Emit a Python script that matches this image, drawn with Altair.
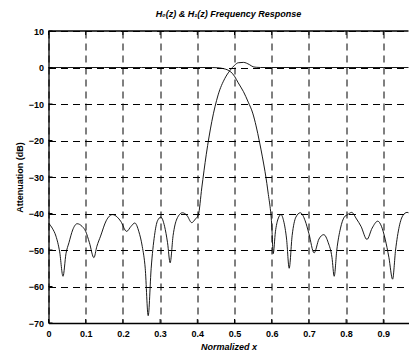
import altair as alt
import pandas as pd

# H0 (lowpass) response: normalized x, attenuation dB
h0_x = [0, 0.05, 0.1, 0.15, 0.2, 0.25, 0.3, 0.35, 0.4, 0.44, 0.46, 0.47, 0.48, 0.49, 0.5,
        0.51, 0.524, 0.537, 0.549, 0.558, 0.567, 0.575, 0.582, 0.587, 0.591, 0.597, 0.600,
        0.604, 0.61, 0.617, 0.625, 0.632, 0.64, 0.647, 0.655, 0.665, 0.677, 0.69, 0.70,
        0.714, 0.727, 0.74, 0.752, 0.762, 0.768, 0.775, 0.785, 0.795, 0.804, 0.815, 0.828,
        0.84, 0.856, 0.87, 0.885, 0.895, 0.905, 0.915, 0.925, 0.933, 0.943, 0.953, 0.964,
        0.975, 0.988, 0.995]
h0_db = [0, 0, 0, 0, 0, 0, 0, 0, 0, 0, -0.1, -0.3, -0.6, -1.2, -2.4,
         -4.2, -6.6, -9.5, -12.5, -16, -20.3, -24.5, -28.5, -31.8, -34.8, -39.4, -43,
         -51, -45, -41.5, -40.3, -42, -47, -55, -46, -41, -39.8, -42, -45.5,
         -50.8, -47, -45.8, -48, -52, -57.2, -50, -44, -41, -40.3, -39.7, -41.5,
         -43.5, -47.1, -44, -42.1, -43.5, -47, -52, -58, -50, -43.5, -40.5, -39.7,
         -40.3, -41.8, -45]

# H1 (highpass) response
h1_x = [0, 0.01, 0.02, 0.03, 0.039, 0.047, 0.055, 0.065, 0.077, 0.09, 0.1, 0.11, 0.122,
        0.13, 0.14, 0.155, 0.172, 0.185, 0.194, 0.21, 0.222, 0.232, 0.243, 0.252, 0.26,
        0.268, 0.276, 0.285, 0.293, 0.302, 0.312, 0.32, 0.327, 0.335, 0.345, 0.36, 0.372,
        0.385, 0.395, 0.403, 0.412, 0.424, 0.439, 0.456, 0.474, 0.488, 0.5, 0.51, 0.524,
        0.54, 0.55, 0.56, 0.57, 0.6, 0.7, 0.8, 0.9, 1.0]
h1_db = [-42.6, -44, -46.2, -50.5, -57.2, -51, -48, -44.5, -42.8, -43.5, -44.9, -48, -52.1,
         -49, -46.2, -42, -40.3, -41, -42.1, -44.9, -43.5, -42.6, -45, -49, -55,
         -68, -55, -46, -42, -41, -43.5, -48, -53.5, -46, -41.5, -39.8, -40.5,
         -42.5, -41.5, -40.3, -33, -23.9, -14.8, -7.5, -3, -0.8, 0.6, 1.3, 1.4,
         0.8, 0.2, 0.05, 0, 0, 0, 0, 0, 0]

x_ticks = [0, 0.1, 0.2, 0.3, 0.4, 0.5, 0.6, 0.7, 0.8, 0.9]
y_ticks = [-70, -60, -50, -40, -30, -20, -10, 0, 10]

W = 360
X_MAX = W / 372.0
H = 292
FONT = "Liberation Sans"

df = pd.concat([
    pd.DataFrame({"x": h0_x, "db": h0_db, "s": "H0"}),
    pd.DataFrame({"x": h1_x, "db": h1_db, "s": "H1"}),
])

xs = alt.Scale(domain=[0, X_MAX], nice=False, zero=False)
ys = alt.Scale(domain=[-70, 10], nice=False, zero=False)

x_axis = alt.Axis(
    values=x_ticks, format="~g", grid=True, gridDash=[7, 5], gridColor="black",
    gridWidth=1, gridOpacity=1, domain=True, domainColor="black", domainWidth=1.3,
    ticks=False, tickSize=0, labelFont=FONT, labelFontWeight="bold", labelFontSize=9,
    labelColor="black", labelPadding=6, labelFlush=False, title="Normalized x",
    titleFont=FONT, titleFontWeight="bold", titleFontStyle="italic", titleFontSize=9,
    titleColor="black", titlePadding=4)
y_axis = alt.Axis(
    values=y_ticks, grid=True, gridDash=[7, 5], gridColor="black", gridWidth=1,
    gridOpacity=1, domain=True, domainColor="black", domainWidth=1.3, ticks=False,
    tickSize=0, labelFont=FONT, labelFontWeight="bold", labelFontSize=9,
    labelColor="black", labelPadding=5, labelFlush=False, title="Attenuation (dB)",
    titleFont=FONT, titleFontWeight="bold", titleFontSize=9, titleColor="black",
    titlePadding=4)

lines = alt.Chart(df).mark_line(
    color="black", strokeWidth=0.9, interpolate="monotone", clip=True
).encode(
    x=alt.X("x:Q", scale=xs, axis=x_axis),
    y=alt.Y("db:Q", scale=ys, axis=y_axis),
    detail="s:N",
)

xt = pd.DataFrame({"x": x_ticks})
yt = pd.DataFrame({"db": y_ticks})

bottom_ticks = alt.Chart(xt).mark_rule(color="black", strokeWidth=1).encode(
    x=alt.X("x:Q", scale=xs, axis=x_axis), y=alt.value(H), y2=alt.value(H - 4))
top_ticks = alt.Chart(xt).mark_rule(color="black", strokeWidth=1).encode(
    x=alt.X("x:Q", scale=xs, axis=x_axis), y=alt.value(0), y2=alt.value(4))
left_ticks = alt.Chart(yt).mark_rule(color="black", strokeWidth=1).encode(
    y=alt.Y("db:Q", scale=ys, axis=y_axis), x=alt.value(0), x2=alt.value(4))
top_border = alt.Chart(pd.DataFrame({"a": [0]})).mark_rule(
    color="black", strokeWidth=1.3).encode(x=alt.value(0), x2=alt.value(W), y=alt.value(0))

chart = alt.layer(lines, bottom_ticks, top_ticks, left_ticks, top_border).properties(
    width=W, height=H,
    title=alt.TitleParams(
        text="H\u2080(z) & H\u2081(z) Frequency Response", font=FONT, fontSize=9,
        fontWeight="bold", fontStyle="italic", color="black", anchor="middle", offset=8),
    autosize=alt.AutoSizeParams(type="none"),
    padding={"left": 40.5, "top": 23, "right": 0, "bottom": 31},
).configure(background="white").configure_view(stroke=None)

chart.save("out.html", embed_options={"renderer": "svg", "actions": False})
